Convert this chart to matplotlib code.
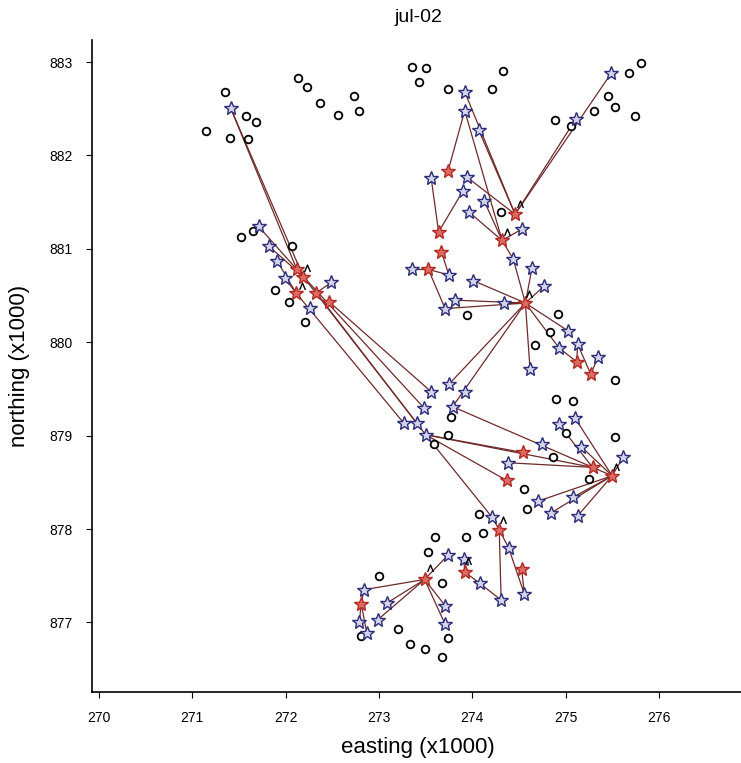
import matplotlib
matplotlib.use("Agg")
import matplotlib.pyplot as plt
from matplotlib.path import Path

plt.rcParams["font.family"] = ["Liberation Sans", "DejaVu Sans"]

# ---- unvisited sites (open circles) ----
circle_e = [271.35, 271.15, 271.40, 271.58, 271.68, 271.60, 272.13, 272.23, 272.37, 272.56,
            272.73, 272.79, 273.35, 273.50, 273.43, 273.74, 274.33, 274.21, 275.81, 275.68,
            275.46, 275.53, 275.31, 275.75, 274.89, 275.06, 271.65, 271.52, 272.07, 271.89,
            272.04, 272.21, 274.31, 273.94, 274.92, 274.83, 274.67, 275.53, 274.90, 275.08,
            273.77, 273.74, 273.59, 275.00, 275.53, 274.87, 275.25, 274.56, 274.59, 274.07,
            274.12, 273.93, 273.60, 273.53, 273.68, 273.00, 272.81, 273.20, 273.74, 273.33,
            273.49, 273.68]
circle_n = [882.68, 882.26, 882.19, 882.42, 882.36, 882.18, 882.83, 882.73, 882.56, 882.43,
            882.64, 882.48, 882.95, 882.94, 882.79, 882.71, 882.90, 882.71, 882.99, 882.88,
            882.64, 882.52, 882.48, 882.42, 882.38, 882.31, 881.19, 881.13, 881.03, 880.56,
            880.43, 880.22, 881.39, 880.29, 880.30, 880.11, 879.97, 879.60, 879.39, 879.37,
            879.20, 879.01, 878.91, 879.03, 878.99, 878.77, 878.54, 878.43, 878.21, 878.16,
            877.96, 877.91, 877.91, 877.75, 877.42, 877.50, 876.85, 876.93, 876.83, 876.77,
            876.72, 876.63]

# ---- visited sites (blue stars) ----
blue_e = [271.41, 275.49, 275.11, 273.92, 273.92, 274.07, 273.56, 273.94, 273.90, 274.13,
          273.97, 274.53, 271.71, 271.82, 271.91, 271.99, 272.49, 272.26, 273.35, 273.75,
          274.44, 274.64, 274.77, 274.01, 273.82, 274.34, 273.71, 275.03, 275.13, 274.93,
          275.35, 274.62, 273.75, 273.56, 273.92, 273.48, 273.79, 273.27, 273.41, 273.50,
          275.10, 274.93, 275.17, 275.62, 274.75, 274.38, 274.71, 275.08, 274.84, 275.13,
          274.21, 274.39, 274.56, 274.31, 273.74, 273.91, 274.08, 272.84, 273.09, 272.99,
          272.79, 272.87, 273.71, 273.71]
blue_n = [882.51, 882.88, 882.39, 882.68, 882.48, 882.27, 881.76, 881.77, 881.62, 881.51,
          881.39, 881.21, 881.24, 881.03, 880.87, 880.69, 880.64, 880.37, 880.78, 880.72,
          880.89, 880.79, 880.60, 880.66, 880.45, 880.42, 880.36, 880.12, 879.98, 879.94,
          879.84, 879.71, 879.55, 879.47, 879.47, 879.30, 879.31, 879.13, 879.13, 879.01,
          879.19, 879.12, 878.88, 878.77, 878.91, 878.71, 878.30, 878.34, 878.17, 878.14,
          878.13, 877.80, 877.30, 877.24, 877.72, 877.68, 877.42, 877.35, 877.21, 877.03,
          877.00, 876.89, 877.18, 876.98]

# ---- roost sites (red stars) ----
red_e = [272.12, 272.19, 272.11, 272.33, 272.47, 273.74, 273.64, 274.46, 274.32, 273.67,
         273.53, 274.57, 275.12, 275.27, 274.54, 275.29, 275.50, 274.37, 274.29, 274.53,
         273.92, 273.49, 272.81]
red_n = [880.78, 880.70, 880.53, 880.53, 880.43, 881.83, 881.18, 881.37, 881.09, 880.97,
         880.78, 880.42, 879.79, 879.66, 878.82, 878.66, 878.57, 878.52, 877.99, 877.57,
         877.54, 877.46, 877.20]

# ---- flagged sites (caret) ----
flag_e = [274.51, 274.37, 272.23, 272.18, 274.61, 275.54, 274.33, 273.96, 273.55]
flag_n = [881.48, 881.18, 880.79, 880.60, 880.52, 878.66, 878.10, 877.66, 877.58]

# ---- movement links: "rN" = red star N, "bN" = blue star N (1-based) ----
links = [
    ("b1", "r1"), ("b1", "r2"),
    ("b2", "r8"), ("b3", "r8"), ("b4", "r8"), ("b6", "r8"), ("b8", "r8"),
    ("b5", "r9"), ("b10", "r9"), ("b11", "r9"), ("b12", "r9"), ("r9", "b21"),
    ("r6", "b5"), ("r7", "b7"), ("r7", "b9"),
    ("r10", "b20"), ("r11", "b19"), ("r11", "b20"), ("r11", "b27"),
    ("r12", "b21"), ("r12", "b22"), ("r12", "b23"), ("r12", "b24"), ("r12", "b25"),
    ("r12", "b26"), ("r12", "b27"), ("r12", "b30"), ("r12", "b32"), ("r12", "b28"),
    ("r12", "b33"), ("r12", "b37"),
    ("r13", "b30"), ("r13", "b29"), ("r14", "b29"), ("r14", "b31"),
    ("b13", "r1"), ("b14", "r2"), ("b15", "r3"), ("b16", "r3"), ("r4", "b17"),
    ("r1", "b36"), ("r2", "b39"), ("r3", "b38"), ("r4", "b40"), ("r5", "b34"),
    ("b37", "r17"), ("b40", "r15"), ("b40", "r16"), ("b40", "r18"), ("b40", "b51"),
    ("b46", "r16"), ("b42", "r16"),
    ("b41", "r17"), ("b43", "r17"), ("b44", "r17"), ("b47", "r17"), ("b48", "r17"),
    ("b49", "r17"), ("b50", "r17"),
    ("r19", "b51"), ("r19", "b52"), ("b52", "b53"), ("r20", "b53"), ("r19", "b54"),
    ("r21", "b56"), ("r21", "b57"), ("b57", "b54"),
    ("r22", "b55"), ("r22", "b58"), ("r22", "b59"), ("r22", "b60"), ("r22", "b63"),
    ("r22", "b64"),
    ("r23", "b58"), ("r23", "b61"), ("r23", "b62"),
]


def site(key):
    i = int(key[1:]) - 1
    if key[0] == "r":
        return red_e[i], red_n[i]
    return blue_e[i], blue_n[i]


fig = plt.figure(figsize=(7.41, 7.63), dpi=100)
ax = fig.add_axes([92 / 741, 1 - 692 / 763, (741 - 92) / 741, (692 - 40) / 763])

link_color = "#6e2a2a"
for a, b in links:
    (e0, n0), (e1, n1) = site(a), site(b)
    ax.plot([e0, e1], [n0, n1], color=link_color, lw=0.9, zorder=2,
            solid_capstyle="round")

ax.plot(circle_e, circle_n, linestyle="none", marker="o", ms=5.5,
        mfc="white", mec="black", mew=1.3, zorder=3)
ax.plot(blue_e, blue_n, linestyle="none", marker="*", ms=10,
        mfc="#d4d4ea", mec="#2c2c78", mew=1.0, zorder=4)
ax.plot(red_e, red_n, linestyle="none", marker="*", ms=10,
        mfc="#de6a62", mec="#b02a24", mew=1.0, zorder=5)

caret = Path([(-0.5, -0.6), (0.0, 0.6), (0.5, -0.6)],
             [Path.MOVETO, Path.LINETO, Path.LINETO])
ax.plot(flag_e, flag_n, linestyle="none", marker=caret, ms=5,
        mfc="none", mec="black", mew=1.0, zorder=6)

ax.set_xlim(269.925, 276.881)
ax.set_ylim(876.255, 883.236)
ax.set_xticks([270, 271, 272, 273, 274, 275, 276])
ax.set_yticks([877, 878, 879, 880, 881, 882, 883])
ax.set_xticklabels(["270", "271", "272", "273", "274", "275", "276"])
ax.set_yticklabels(["877", "878", "879", "880", "881", "882", "883"])

for side in ("top", "right"):
    ax.spines[side].set_visible(False)
for side in ("left", "bottom"):
    ax.spines[side].set_linewidth(1.2)
ax.tick_params(direction="out", length=4, width=0.8, labelsize=10, pad=10)

fig.text(418 / 741, 1 - 17 / 763, "jul-02", ha="center", va="center", fontsize=14)
fig.text(418 / 741, 1 - 747 / 763, "easting (x1000)", ha="center", va="center", fontsize=16)
fig.text(20 / 741, 1 - 366 / 763, "northing (x1000)", ha="center", va="center",
         fontsize=16, rotation=90)

fig.savefig("out.png", dpi=100)
